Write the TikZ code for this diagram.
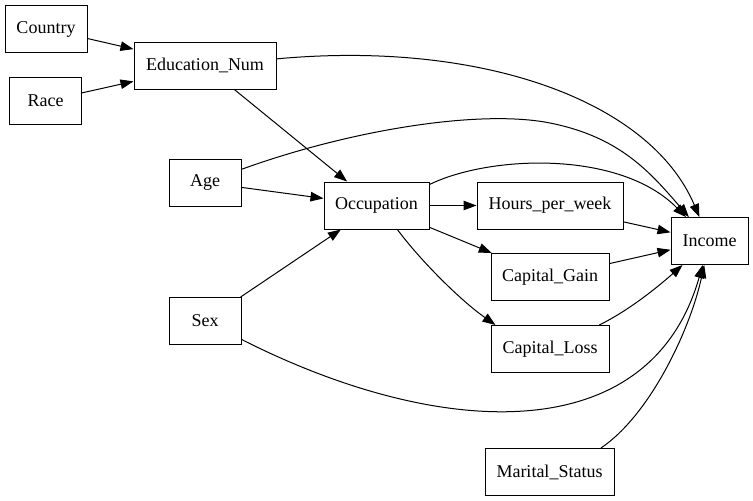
\documentclass[tikz,border=0pt]{standalone}
\usepackage{fontspec}
\setmainfont{Liberation Serif}
\usetikzlibrary{arrows.meta}
\begin{document}
\begin{tikzpicture}[x=1pt,y=-1pt,
  box/.style={draw=black, line width=1pt, rectangle, minimum height=47pt, inner sep=0pt, font=\rmfamily\fontsize{18}{20}\selectfont},
  arr/.style={line width=1pt, -{Triangle[length=13pt,width=9.5pt]}}]
\useasboundingbox (0,0) rectangle (753,501);
\fill[white] (0,0) rectangle (753,501);
\node[box, minimum width=82pt]  (country) at (46,29) {Country};
\node[box, minimum width=72pt]  (race)    at (45.5,101) {Race};
\node[box, minimum width=142pt] (edu)     at (205,65.5) {Education\_Num};
\node[box, minimum width=72pt]  (age)     at (205,182.5) {Age};
\node[box, minimum width=105pt] (occ)     at (376.5,205.5) {Occupation};
\node[box, minimum width=146pt] (hours)   at (550,205.5) {Hours\_per\_week};
\node[box, minimum width=118pt] (gain)    at (550,277) {Capital\_Gain};
\node[box, minimum width=118pt] (loss)    at (550,349) {Capital\_Loss};
\node[box, minimum width=77pt]  (income)  at (709.5,241) {Income};
\node[box, minimum width=72pt]  (sex)     at (205,321) {Sex};
\node[box, minimum width=129pt] (marital) at (549.5,472) {Marital\_Status};
\coordinate (agemid) at (550,123);

\draw[arr] (country) -- (edu);
\draw[arr] (race) -- (edu);
\draw[arr] (edu) -- (occ);
\draw[arr] (edu) .. controls (480,40) and (650,100) .. (income);
\draw[arr] (age) .. controls (350,130) and (480,109) .. (agemid) .. controls (620,137) and (650,172) .. (income);
\draw[arr] (age) -- (occ);
\draw[arr] ([yshift=-3pt]occ.north east) .. controls (490,155) and (620,150) .. (income);
\draw[arr] (occ) -- (hours);
\draw[arr] (occ) -- (gain);
\draw[arr] (occ.-49) .. controls (420,260) and (460,300) .. ([xshift=5pt]loss.north west);
\draw[arr] (sex) -- (occ);
\draw[arr] (sex) .. controls (440,440) and (650,450) .. (income);
\draw[arr] (hours) -- (income);
\draw[arr] (gain) -- (income);
\draw[arr] (loss) .. controls (630,310) and (660,285) .. (income);
\draw[arr] (marital.25) .. controls (650,415) and (690,330) .. (income);
\end{tikzpicture}
\end{document}
